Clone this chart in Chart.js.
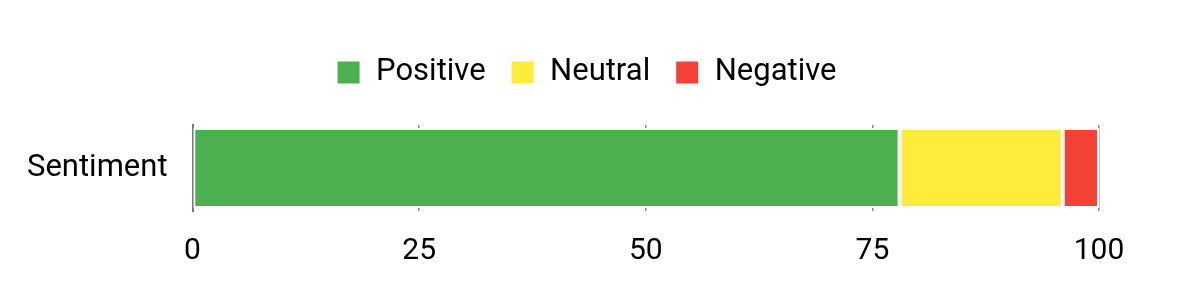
<!DOCTYPE html>
<html>
<head>
<meta charset="utf-8">
<script src="https://cdn.jsdelivr.net/npm/chart.js@4"></script>
<style>
  html, body { margin: 0; padding: 0; background: #fff; }
  #wrap { width: 1200px; height: 300px; }
</style>
</head>
<body>
<div id="wrap"><canvas id="sentimentChart"></canvas></div>
<script>
const categories = ['Sentiment'];
const positive = [78];
const neutral = [18];
const negative = [4];
const xTicks = [0, 25, 50, 75, 100];

const ctx = document.getElementById('sentimentChart').getContext('2d');
Chart.defaults.font.family = 'Roboto';
Chart.defaults.color = '#000';

// extra space under the legend, and nudge it right
const legendGap = {
    id: 'legendGap',
    beforeInit(chart) {
        const fit = chart.legend.fit;
        chart.legend.fit = function () {
            fit.bind(chart.legend)();
            this.height += 27;
        };
    },
    afterLayout(chart) {
        chart.legend.left += 36;
        chart.legend.right += 36;
    }
};

new Chart(ctx, {
    type: 'bar',
    data: {
        labels: categories,
        datasets: [
            { label: 'Positive', data: positive, backgroundColor: '#4caf50' },
            { label: 'Neutral', data: neutral, backgroundColor: '#ffeb3b' },
            { label: 'Negative', data: negative, backgroundColor: '#f44336' }
        ]
    },
    options: {
        indexAxis: 'y',
        responsive: true,
        maintainAspectRatio: false,
        animation: false,
        layout: {
            padding: { left: 2, right: 101, top: 32, bottom: 9 }
        },
        datasets: {
            bar: {
                borderColor: '#fff',
                borderWidth: 2,
                borderSkipped: false,
                categoryPercentage: 0.93,
                barPercentage: 1
            }
        },
        plugins: {
            legend: {
                position: 'top',
                labels: {
                    boxWidth: 24,
                    boxHeight: 24,
                    padding: 25,
                    font: { size: 31 }
                }
            },
            tooltip: { enabled: false }
        },
        scales: {
            x: {
                stacked: true,
                min: 0,
                max: 100,
                afterBuildTicks: axis => {
                    axis.ticks = xTicks.map(v => ({ value: v }));
                },
                ticks: { font: { size: 30 }, padding: 22 },
                grid: {
                    color: '#888',
                    lineWidth: 1.5,
                    drawTicks: false
                },
                border: { display: false }
            },
            y: {
                stacked: true,
                ticks: { font: { size: 31 }, padding: 25 },
                grid: { display: false, drawTicks: false },
                border: { color: '#777', width: 2 }
            }
        }
    },
    plugins: [legendGap]
});
</script>
</body>
</html>
